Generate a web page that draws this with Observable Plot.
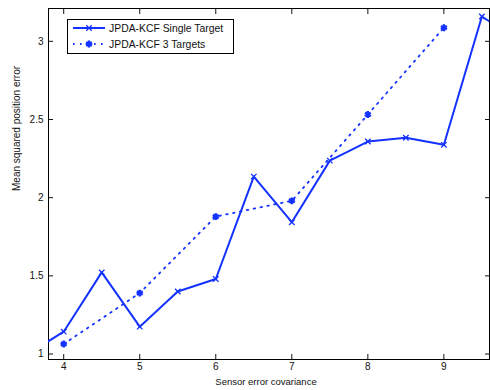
<!DOCTYPE html>
<html><head><meta charset="utf-8">
<script src="https://cdn.jsdelivr.net/npm/d3@7"></script>
<script src="https://cdn.jsdelivr.net/npm/@observablehq/plot@0.6"></script>
<style>
body{margin:0;background:#fff;}
#wrap{position:relative;width:490px;height:390px;font-family:"Liberation Sans",Arial,sans-serif;}
#legend{position:absolute;left:67px;top:19px;}
</style></head><body><div id="wrap"></div>
<script>
// Data
const xSingle = [3.5, 4, 4.5, 5, 5.5, 6, 6.5, 7, 7.5, 8, 8.5, 9, 9.5, 10];
const ySingle = [0.99, 1.143, 1.522, 1.175, 1.40, 1.48, 2.135, 1.843, 2.237, 2.359, 2.383, 2.338, 3.159, 3.0];
const xMulti = [4, 5, 6, 7, 8, 9];
const yMulti = [1.064, 1.39, 1.879, 1.98, 2.532, 3.087];
const xTicks = [4, 5, 6, 7, 8, 9];
const yTicks = [1, 1.5, 2, 2.5, 3];
const seriesNames = ["JPDA-KCF Single Target", "JPDA-KCF 3 Targets"];
const xLabel = "Sensor error covariance";
const yLabel = "Mean squared position error";

const blue = "rgb(20,50,255)";
const dots = "1.6,5.4";
const single = xSingle.map((x, i) => ({x, y: ySingle[i]}));
const multi = xMulti.map((x, i) => ({x, y: yMulti[i]}));

const chart = Plot.plot({
  width: 490, height: 390,
  marginLeft: 48, marginRight: 1, marginTop: 8, marginBottom: 31,
  style: {fontFamily: "Liberation Sans, Arial, sans-serif", fontSize: "10px", color: "#111", background: "#fff"},
  x: {domain: [3.8, 9.6]},
  y: {domain: [0.965, 3.21]},
  marks: [
    Plot.frame({stroke: "#000"}),
    Plot.axisX(xTicks, {anchor: "bottom", tickSize: -5, tickPadding: 8, tickFormat: d => String(d), label: null}),
    Plot.axisX(xTicks, {anchor: "top", tickSize: -5, tickFormat: () => "", label: null}),
    Plot.axisY(yTicks, {anchor: "left", tickSize: -5, tickPadding: 10, tickFormat: d => String(d), label: null}),
    Plot.axisY(yTicks, {anchor: "right", tickSize: -5, tickFormat: () => "", label: null}),
    Plot.line(multi, {x: "x", y: "y", stroke: blue, strokeWidth: 1.8, strokeDasharray: dots, clip: true}),
    Plot.dot(multi, {x: "x", y: "y", symbol: "asterisk", r: 3.2, stroke: blue, strokeWidth: 2.5, clip: true}),
    Plot.line(single, {x: "x", y: "y", stroke: blue, strokeWidth: 2, clip: true}),
    Plot.dot(single, {x: "x", y: "y", symbol: "times", r: 2.6, stroke: blue, strokeWidth: 1.3, clip: true}),
    Plot.text([xLabel], {text: d => d, frameAnchor: "bottom", dy: 25, dx: -3, fontSize: 9.5, fill: "#111"}),
    Plot.text([yLabel], {text: d => d, frameAnchor: "left", dx: -32, dy: 7, rotate: -90, fontSize: 10, fill: "#111"})
  ]
});
const wrap = document.getElementById("wrap");
wrap.appendChild(chart);

// Legend
const lw = 167, lh = 35;
const leg = d3.select(wrap).append("svg").attr("id", "legend").attr("width", lw).attr("height", lh);
leg.append("rect").attr("x", 0.5).attr("y", 0.5).attr("width", lw - 1).attr("height", lh - 1)
  .attr("fill", "#fff").attr("stroke", "#000");
const rows = [
  {name: seriesNames[0], dash: null, sw: 2, sym: d3.symbolTimes, r: 2.6, msw: 1.3},
  {name: seriesNames[1], dash: dots, sw: 1.8, sym: d3.symbolAsterisk, r: 3.2, msw: 2.5}
];
rows.forEach((d, i) => {
  const cy = 9 + i * 16;
  const g = leg.append("g");
  g.append("line").attr("x1", 6).attr("x2", 38).attr("y1", cy).attr("y2", cy)
    .attr("stroke", blue).attr("stroke-width", d.sw).attr("stroke-dasharray", d.dash);
  g.append("path").attr("transform", `translate(22,${cy})`)
    .attr("d", d3.symbol().type(d.sym).size(d.r * d.r * Math.PI)())
    .attr("fill", "none").attr("stroke", blue).attr("stroke-width", d.msw);
  g.append("text").attr("x", 42).attr("y", cy).attr("dy", "0.35em")
    .attr("font-family", "Liberation Sans, Arial, sans-serif").attr("font-size", 10.4)
    .attr("fill", "#111").text(d.name);
});
</script></body></html>
